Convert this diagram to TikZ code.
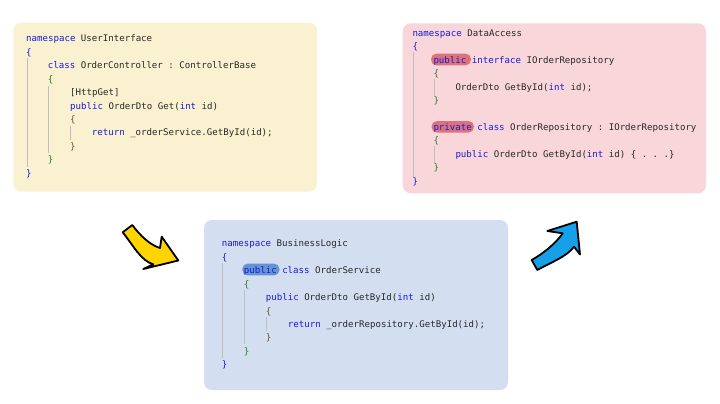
\documentclass[tikz,border=0pt]{standalone}
\usepackage{fontspec}
\setmonofont{DejaVu Sans Mono}
\definecolor{kw}{RGB}{25,25,220}
\definecolor{idf}{RGB}{40,40,40}
\definecolor{brA}{RGB}{25,25,220}
\definecolor{brB}{RGB}{40,125,40}
\definecolor{brC}{RGB}{105,85,45}
\definecolor{guide}{RGB}{190,190,190}
\definecolor{boxY}{RGB}{250,241,208}
\definecolor{boxR}{RGB}{248,214,218}
\definecolor{boxB}{RGB}{211,223,240}
\definecolor{pillR}{RGB}{220,115,122}
\definecolor{pillB}{RGB}{100,148,210}
\definecolor{arY}{RGB}{255,212,0}
\definecolor{arB}{RGB}{22,160,232}
\newcommand{\K}[1]{\textcolor{kw}{#1}}
\newcommand{\BA}[1]{\textcolor{brA}{#1}}
\newcommand{\BB}[1]{\textcolor{brB}{#1}}
\newcommand{\BC}[1]{\textcolor{brC}{#1}}
\tikzset{
  code/.style={anchor=base west, inner sep=0pt, font=\ttfamily\fontsize{9.1}{11}\selectfont, text=idf},
  panel/.style={rounded corners=8pt},
  guideline/.style={draw=guide, line width=0.8pt},
  pill/.style={rounded corners=5.5pt},
  bigarrow/.style={draw=black, line width=1.8pt, line join=round}
}
\begin{document}
\begin{tikzpicture}[x=1pt,y=-1pt]
\useasboundingbox (0,0) rectangle (720,404);
\fill[white] (0,0) rectangle (720,404);
% panels
\fill[panel, boxY] (13.3,22.7) rectangle (317,191.7);
\fill[panel, boxR] (402.7,23.3) rectangle (706,193.3);
\fill[panel, boxB] (204,220) rectangle (508,390);
% highlights
\fill[pill, pillR] (431,53.6) rectangle (471,65.4);
\fill[pill, pillR] (431.5,121) rectangle (474,132.6);
\fill[pill, pillB] (242.3,263.6) rectangle (279.5,275.4);
% guides box 1
\draw[guideline] (27,58) -- (27,167);
\draw[guideline] (48.7,86) -- (48.7,153);
\draw[guideline] (70.7,126) -- (70.7,140);
% guides box 2
\draw[guideline] (413,52) -- (413,178);
\draw[guideline] (434.3,79) -- (434.3,96);
\draw[guideline] (434.3,146) -- (434.3,163);
% guides box 3
\draw[guideline] (222.7,263) -- (222.7,358);
\draw[guideline] (244.5,290) -- (244.5,344);
\draw[guideline] (266.5,317) -- (266.5,331);
% box 1 text
\node[code] (u1) at (26,41.8) {\K{namespace} UserInterface};
\node[code] (u2) at (26,55.25) {\BA{\{}};
\node[code] (u3) at (47.7,68.7) {\K{class} OrderController : ControllerBase};
\node[code] (u4) at (47.7,82.15) {\BB{\{}};
\node[code] (u5) at (70,95.6) {[HttpGet]};
\node[code] (u6) at (70,109.05) {\K{public} OrderDto Get(\K{int} id)};
\node[code] (u7) at (70,122.5) {\BC{\{}};
\node[code] (u8) at (91.7,135.95) {\K{return} \_orderService.GetById(id);};
\node[code] (u9) at (70,149.4) {\BC{\}}};
\node[code] (u10) at (47.7,162.85) {\BB{\}}};
\node[code] (u11) at (26,176.3) {\BA{\}}};
% box 2 text
\node[code] (d1) at (412.3,36.2) {\K{namespace} DataAccess};
\node[code] (d2) at (412.3,49.65) {\BA{\{}};
\node[code] (d3) at (433.3,63.1) {\K{public} \K{interface} IOrderRepository};
\node[code] (d4) at (433.3,76.55) {\BB{\{}};
\node[code] (d5) at (455.3,90) {OrderDto GetById(\K{int} id);};
\node[code] (d6) at (433.3,103.45) {\BB{\}}};
\node[code] (d7) at (433.3,130.35) {\K{private} \K{class} OrderRepository : IOrderRepository};
\node[code] (d8) at (433.3,143.8) {\BB{\{}};
\node[code] (d9) at (455.3,157.25) {\K{public} OrderDto GetById(\K{int} id) \{ . . .\}};
\node[code] (d10) at (433.3,170.7) {\BB{\}}};
\node[code] (d11) at (412.3,184.15) {\BA{\}}};
% box 3 text
\node[code] (b1) at (221.7,246.8) {\K{namespace} BusinessLogic};
\node[code] (b2) at (221.7,260.25) {\BA{\{}};
\node[code] (b3) at (243.7,273.7) {\K{public} \K{class} OrderService};
\node[code] (b4) at (243.7,287.15) {\BB{\{}};
\node[code] (b5) at (265.7,300.6) {\K{public} OrderDto GetById(\K{int} id)};
\node[code] (b6) at (265.7,314.05) {\BC{\{}};
\node[code] (b7) at (287.7,327.5) {\K{return} \_orderRepository.GetById(id);};
\node[code] (b8) at (265.7,340.95) {\BC{\}}};
\node[code] (b9) at (243.7,354.4) {\BB{\}}};
\node[code] (b10) at (221.7,367.85) {\BA{\}}};
% yellow arrow
\filldraw[bigarrow, fill=arY] (122.7,232.3) -- (132.3,225)
  .. controls (140,235.5) and (150,245) .. (160,248)
  -- (161.7,236.7) -- (178.3,260.5) -- (143.3,269) -- (153.3,264.3)
  .. controls (141,261) and (133,245) .. (122.7,232.3) -- cycle;
% blue arrow
\filldraw[bigarrow, fill=arB] (537.3,270) -- (531.7,260)
  .. controls (543,253.6) and (555.3,244) .. (562.7,233.3)
  -- (547.3,231) -- (576.7,221.7) -- (580,254.5) -- (574,246.7)
  .. controls (567.2,256.5) and (549.5,263.1) .. (537.3,270) -- cycle;
\end{tikzpicture}
\end{document}
